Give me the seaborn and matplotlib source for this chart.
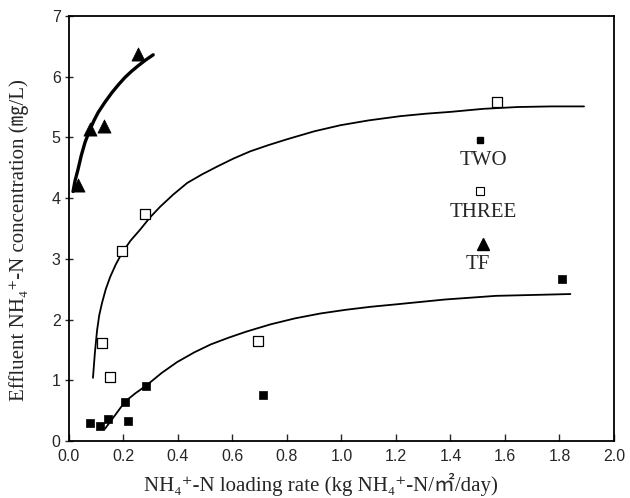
import matplotlib
matplotlib.use("Agg")
import matplotlib.pyplot as plt
import seaborn as sns

# ---- data ----
two_x = [0.077, 0.114, 0.143, 0.206, 0.283, 0.217, 0.713, 1.81]
two_y = [0.30, 0.25, 0.36, 0.65, 0.91, 0.33, 0.76, 2.67]

three_x = [0.121, 0.151, 0.195, 0.279, 0.693, 1.57]
three_y = [1.62, 1.05, 3.13, 3.74, 1.64, 5.58]

tf_x = [0.033, 0.077, 0.129, 0.254]
tf_y = [4.22, 5.13, 5.18, 6.37]

# fitted curves as drawn in the reference
tf_curve_x = [0.015, 0.022, 0.033, 0.045, 0.059, 0.077, 0.092, 0.107, 0.132,
              0.158, 0.182, 0.206, 0.230, 0.254, 0.280, 0.309]
tf_curve_y = [4.11, 4.28, 4.47, 4.70, 4.92, 5.13, 5.28, 5.41, 5.58,
              5.74, 5.87, 5.99, 6.09, 6.18, 6.27, 6.36]

three_curve_x = [0.088, 0.095, 0.103, 0.111, 0.121, 0.135, 0.151, 0.172, 0.195,
                 0.226, 0.261, 0.297, 0.335, 0.383, 0.434, 0.488, 0.544, 0.603,
                 0.665, 0.730, 0.801, 0.900, 0.996, 1.100, 1.217, 1.310, 1.400,
                 1.520, 1.647, 1.770, 1.890]
three_curve_y = [1.04, 1.45, 1.82, 2.07, 2.27, 2.50, 2.70, 2.91, 3.10,
                 3.30, 3.48, 3.68, 3.86, 4.06, 4.25, 4.39, 4.52, 4.65,
                 4.77, 4.87, 4.97, 5.10, 5.20, 5.28, 5.35, 5.39, 5.42,
                 5.47, 5.50, 5.51, 5.51]

two_curve_x = [0.132, 0.170, 0.206, 0.245, 0.283, 0.340, 0.397, 0.460, 0.520,
               0.585, 0.650, 0.739, 0.830, 0.923, 1.015, 1.107, 1.200, 1.290,
               1.380, 1.474, 1.566, 1.658, 1.750, 1.840]
two_curve_y = [0.20, 0.43, 0.65, 0.79, 0.91, 1.12, 1.30, 1.46, 1.59,
               1.70, 1.80, 1.92, 2.02, 2.10, 2.16, 2.21, 2.25, 2.29,
               2.33, 2.36, 2.39, 2.40, 2.41, 2.42]

legend_names = ["TWO", "THREE", "TF"]
legend_x = [1.51, 1.51, 1.52]
legend_y = [4.95, 4.11, 3.24]
legend_text_x = [1.52, 1.52, 1.50]
legend_text_y = [4.62, 3.76, 2.90]

x_ticks = [0.0, 0.2, 0.4, 0.6, 0.8, 1.0, 1.2, 1.4, 1.6, 1.8, 2.0]
y_ticks = [0, 1, 2, 3, 4, 5, 6, 7]

# ---- style ----
sns.set_style("ticks")
plt.rcParams["font.family"] = ["Liberation Sans", "DejaVu Sans"]
serif = ["Liberation Serif", "Noto Sans CJK KR", "DejaVu Serif"]

fig, ax = plt.subplots(figsize=(6.3, 4.98), dpi=100)
fig.subplots_adjust(left=0.1095, right=0.9746, top=0.968, bottom=0.1145)

# curves
for cx, cy, lw in [(tf_curve_x, tf_curve_y, 2.4),
                   (three_curve_x, three_curve_y, 1.3),
                   (two_curve_x, two_curve_y, 1.3)]:
    sns.lineplot(x=cx, y=cy, ax=ax, color="black", lw=lw,
                 estimator=None, sort=False)

# points
sns.scatterplot(x=two_x, y=two_y, ax=ax, marker="s", s=36, color="black",
                edgecolor="black", linewidth=0.5, zorder=5)
sns.scatterplot(x=three_x, y=three_y, ax=ax, marker="s", s=45, facecolor="white",
                edgecolor="black", linewidth=0.9, zorder=5)
sns.scatterplot(x=tf_x, y=tf_y, ax=ax, marker="^", s=90, color="black",
                edgecolor="black", linewidth=0.5, zorder=5)

# in-plot legend: marker above label
styles = [dict(marker="s", ms=5, mfc="black", mec="black"),
          dict(marker="s", ms=5.5, mfc="white", mec="black", mew=0.8),
          dict(marker="^", ms=9, mfc="black", mec="black")]
for name, mx, my, tx, ty, st in zip(legend_names, legend_x, legend_y,
                                     legend_text_x, legend_text_y, styles):
    ax.plot([mx], [my], ls="none", **st)
    ax.text(tx, ty, name, ha="center", va="center", fontsize=15, family=serif)

ax.set_xlim(0, 2.0)
ax.set_ylim(0, 7)
ax.set_xticks(x_ticks)
ax.set_xticklabels([f"{v:.1f}" for v in x_ticks], fontsize=11.5)
ax.set_yticks(y_ticks)
ax.set_yticklabels([str(v) for v in y_ticks], fontsize=11.5)
ax.tick_params(axis="x", direction="in", length=5, width=1, pad=6)
ax.tick_params(axis="y", direction="inout", length=6, width=1, pad=3)
for sp in ax.spines.values():
    sp.set_visible(True)
    sp.set_linewidth(1.3)
    sp.set_color("black")

ax.set_xlabel("NH\u2084\u207a-N loading rate (kg NH\u2084\u207a-N/\u33a1/day)",
              fontsize=15, family=serif)
ax.set_ylabel("Effluent NH\u2084\u207a-N concentration (\u338e/L)",
              fontsize=15, family=serif)
ax.xaxis.set_label_coords(0.462, -0.075)
ax.yaxis.set_label_coords(-0.073, 0.473)

fig.savefig("out.png", dpi=100)
